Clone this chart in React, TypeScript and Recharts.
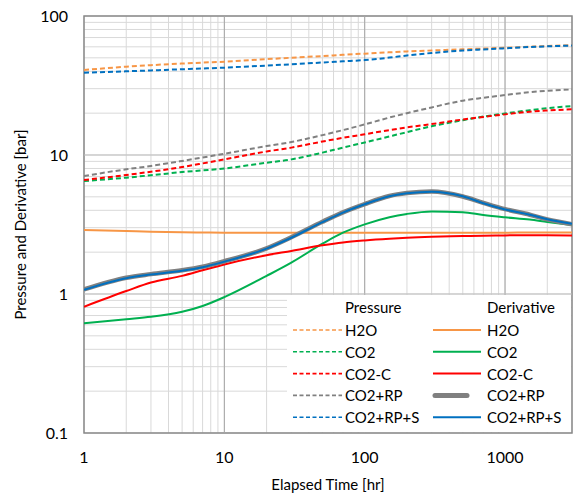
import React from "react";
import {
  CartesianGrid,
  Legend,
  Line,
  LineChart,
  ReferenceArea,
  ReferenceLine,
  XAxis,
  YAxis,
} from "recharts";

// elapsed time [hr]
const TIME = [1, 2, 3, 5, 7, 10, 20, 30, 50, 70, 100, 150, 200, 300, 500, 700, 1000, 1500, 2000, 3000];

// pressure [bar] (dashed)
const P_H2O = [40.9, 43.2, 44.3, 45.5, 46.2, 46.9, 48.9, 50.1, 51.5, 52.6, 53.6, 54.8, 55.6, 56.5, 57.6, 58.3, 59.1, 60.1, 60.8, 61.6];
const P_CO2 = [6.5, 6.87, 7.15, 7.54, 7.75, 8.0, 8.8, 9.3, 10.4, 11.3, 12.3, 13.6, 14.6, 16.1, 17.8, 18.9, 19.9, 21.0, 21.7, 22.5];
const P_CO2C = [6.61, 7.18, 7.58, 8.19, 8.7, 9.3, 10.6, 11.3, 12.5, 13.3, 14.1, 15.1, 15.8, 16.7, 18.0, 18.8, 19.6, 20.5, 20.9, 21.3];
const P_RP = [7.06, 7.89, 8.34, 9.06, 9.6, 10.2, 11.6, 12.4, 13.9, 15.1, 16.6, 18.6, 20.0, 22.0, 24.6, 25.8, 27.0, 28.3, 29.0, 29.6];
const P_RPS = [39.1, 40.0, 40.6, 41.4, 41.9, 42.5, 44.0, 44.9, 46.3, 47.2, 48.2, 50.2, 52.0, 54.2, 56.4, 57.5, 58.6, 59.8, 60.5, 61.3];

// derivative [bar] (solid)
const D_H2O = [2.89, 2.84, 2.81, 2.78, 2.77, 2.76, 2.76, 2.76, 2.76, 2.76, 2.76, 2.76, 2.76, 2.76, 2.76, 2.76, 2.76, 2.77, 2.77, 2.77];
const D_CO2 = [0.615, 0.658, 0.685, 0.745, 0.82, 0.95, 1.35, 1.68, 2.3, 2.76, 3.17, 3.57, 3.77, 3.93, 3.88, 3.7, 3.56, 3.43, 3.3, 3.14];
const D_CO2C = [0.81, 1.05, 1.21, 1.35, 1.48, 1.63, 1.9, 2.04, 2.24, 2.35, 2.43, 2.5, 2.54, 2.58, 2.61, 2.63, 2.64, 2.65, 2.65, 2.64];
const D_RP = [1.08, 1.31, 1.39, 1.48, 1.57, 1.72, 2.13, 2.56, 3.31, 3.87, 4.44, 5.07, 5.32, 5.46, 5.03, 4.53, 4.08, 3.72, 3.44, 3.18];
const D_RPS = [1.07, 1.3, 1.38, 1.47, 1.56, 1.71, 2.12, 2.54, 3.29, 3.85, 4.42, 5.05, 5.3, 5.45, 5.05, 4.5, 4.06, 3.72, 3.45, 3.2];

const X_TICKS = [1, 2, 3, 4, 5, 6, 7, 8, 9, 10, 20, 30, 40, 50, 60, 70, 80, 90, 100, 200, 300, 400, 500, 600, 700, 800, 900, 1000, 2000, 3000];
const Y_TICKS = [0.1, 0.2, 0.3, 0.4, 0.5, 0.6, 0.7, 0.8, 0.9, 1, 2, 3, 4, 5, 6, 7, 8, 9, 10, 20, 30, 40, 50, 60, 70, 80, 90, 100];
const X_DECADES = [10, 100, 1000];
const Y_DECADES = [1, 10];

const NAMES = ["H2O", "CO2", "CO2-C", "CO2+RP", "CO2+RP+S"];
const COLORS = ["#F79646", "#00B050", "#FF0000", "#808080", "#0070C0"];

const data = TIME.map((t, i) => ({
  t,
  pH2O: P_H2O[i],
  pCO2: P_CO2[i],
  pCO2C: P_CO2C[i],
  pRP: P_RP[i],
  pRPS: P_RPS[i],
  dH2O: D_H2O[i],
  dCO2: D_CO2[i],
  dCO2C: D_CO2C[i],
  dRP: D_RP[i],
  dRPS: D_RPS[i],
}));

const isDecade = (v: number) => Math.abs(Math.log10(v) - Math.round(Math.log10(v))) < 1e-9;
const decadeLabel = (v: number) => (isDecade(v) ? String(v) : "");

function LegendBox() {
  const rowY = (i: number) => 35 + i * 21.8;
  return (
    <svg width={284} height={137} style={{ display: "block" }}>
      <rect x={0} y={0} width={284} height={137} fill="#fff" />
      <g fontSize={15} fill="#000">
        <text x={58} y={12} dominantBaseline="central">Pressure</text>
        <text x={200} y={12} dominantBaseline="central">Derivative</text>
        {NAMES.map((name, i) => (
          <g key={name}>
            <line x1={6} x2={55} y1={rowY(i)} y2={rowY(i)} stroke={COLORS[i]} strokeWidth={1.6} strokeDasharray="4 2.5" />
            <text x={58} y={rowY(i)} dominantBaseline="central">{name}</text>
            {i === 3 ? (
              <line x1={148} x2={180} y1={rowY(i)} y2={rowY(i)} stroke={COLORS[i]} strokeWidth={5} strokeLinecap="round" />
            ) : (
              <line x1={146} x2={194} y1={rowY(i)} y2={rowY(i)} stroke={COLORS[i]} strokeWidth={2} />
            )}
            <text x={200} y={rowY(i)} dominantBaseline="central">{name}</text>
          </g>
        ))}
      </g>
    </svg>
  );
}

export default function App() {
  return (
    <div style={{ position: "absolute", left: 0, top: 0, fontFamily: "Lato, 'Open Sans', sans-serif" }}>
      <LineChart width={584} height={500} data={data} margin={{ top: 16, right: 12, bottom: 0, left: 0 }}>
        <CartesianGrid stroke="#d9d9d9" strokeWidth={1} />
        {X_DECADES.map((v) => (
          <ReferenceLine key={`x${v}`} x={v} stroke="#a6a6a6" strokeWidth={1} />
        ))}
        {Y_DECADES.map((v) => (
          <ReferenceLine key={`y${v}`} y={v} stroke="#bfbfbf" strokeWidth={1} />
        ))}
        <XAxis
          dataKey="t"
          type="number"
          scale="log"
          domain={[1, 3000]}
          ticks={X_TICKS}
          interval={0}
          allowDataOverflow
          tickFormatter={decadeLabel}
          axisLine={false}
          tickLine={false}
          tickSize={0}
          tickMargin={19}
          height={67}
          tick={{ fill: "#000", fontSize: 16 }}
          label={{ value: "Elapsed Time [hr]", position: "insideBottom", offset: 10, fill: "#000", fontSize: 15 }}
        />
        <YAxis
          type="number"
          scale="log"
          domain={[0.1, 100]}
          ticks={Y_TICKS}
          interval={0}
          allowDataOverflow
          tickFormatter={decadeLabel}
          axisLine={false}
          tickLine={false}
          tickSize={0}
          tickMargin={16}
          width={84}
          tick={{ fill: "#000", fontSize: 16 }}
          label={{
            value: "Pressure and Derivative [bar]",
            angle: -90,
            position: "insideLeft",
            offset: 21,
            fill: "#000",
            fontSize: 15,
            style: { textAnchor: "middle" },
          }}
        />
        <Line dataKey="pH2O" type="monotone" stroke={COLORS[0]} strokeWidth={2} strokeDasharray="5 3" dot={false} isAnimationActive={false} />
        <Line dataKey="pCO2" type="monotone" stroke={COLORS[1]} strokeWidth={2} strokeDasharray="5 3" dot={false} isAnimationActive={false} />
        <Line dataKey="pCO2C" type="monotone" stroke={COLORS[2]} strokeWidth={2} strokeDasharray="5 3" dot={false} isAnimationActive={false} />
        <Line dataKey="pRP" type="monotone" stroke={COLORS[3]} strokeWidth={2} strokeDasharray="5 3" dot={false} isAnimationActive={false} />
        <Line dataKey="pRPS" type="monotone" stroke={COLORS[4]} strokeWidth={2} strokeDasharray="5 3" dot={false} isAnimationActive={false} />
        <Line dataKey="dH2O" type="monotone" stroke={COLORS[0]} strokeWidth={2} dot={false} isAnimationActive={false} />
        <Line dataKey="dCO2" type="monotone" stroke={COLORS[1]} strokeWidth={2} dot={false} isAnimationActive={false} />
        <Line dataKey="dCO2C" type="monotone" stroke={COLORS[2]} strokeWidth={2} dot={false} isAnimationActive={false} />
        <Line dataKey="dRP" type="monotone" stroke={COLORS[3]} strokeWidth={4.5} dot={false} isAnimationActive={false} />
        <Line dataKey="dRPS" type="monotone" stroke={COLORS[4]} strokeWidth={2} dot={false} isAnimationActive={false} />
        <ReferenceArea x1={1} x2={3000} y1={0.1} y2={100} fill="none" stroke="#898989" strokeWidth={1.5} />
        <Legend
          layout="vertical"
          align="center"
          verticalAlign="middle"
          content={() => <LegendBox />}
          wrapperStyle={{ left: 287, top: 295, width: 284, height: 137 }}
        />
      </LineChart>
    </div>
  );
}
